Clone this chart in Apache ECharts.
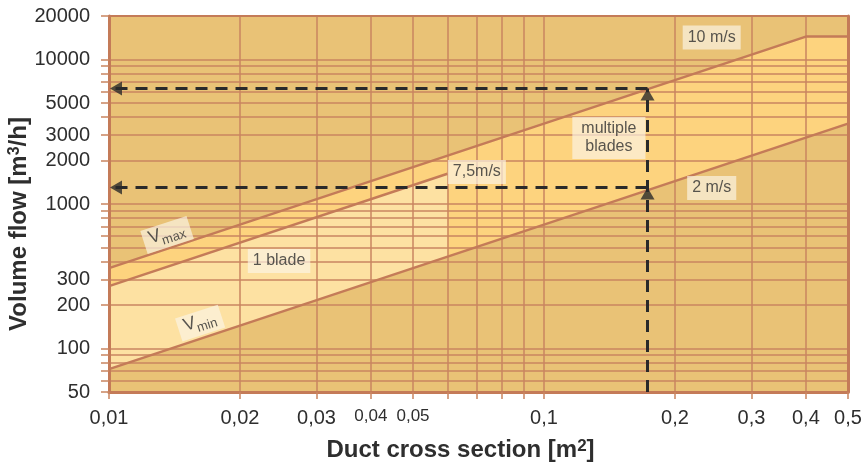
<!DOCTYPE html>
<html>
<head>
<meta charset="utf-8">
<style>
  html, body { margin: 0; padding: 0; background: #fff; }
  #chart { width: 863px; height: 463px; }
</style>
<script src="https://cdn.jsdelivr.net/npm/echarts@6/dist/echarts.min.js"></script>
</head>
<body>
<div id="chart"></div>
<script>
// grid / tick values (log-log)
var xGrid = [0.01, 0.02, 0.03, 0.04, 0.05, 0.06, 0.07, 0.08, 0.09, 0.1, 0.2, 0.3, 0.4, 0.5];
var xLabels = [0.01, 0.02, 0.03, 0.04, 0.05, 0.1, 0.2, 0.3, 0.4, 0.5];
var yGrid = [50, 60, 70, 80, 90, 100, 200, 300, 400, 500, 600, 700, 800, 900,
             1000, 2000, 3000, 4000, 5000, 6000, 7000, 8000, 9000, 10000, 20000];
var yLabels = [50, 100, 200, 300, 1000, 2000, 3000, 5000, 10000, 20000];

// velocity lines [cross section m2, volume flow m3/h]
var vMax = [[0.01, 360], [0.4, 14400], [0.5, 14400]];   // 10 m/s
var v75 = [[0.01, 270], [0.06, 1620]];                   // 7,5 m/s
var vMin = [[0.01, 72], [0.5, 3600]];                    // 2 m/s

// shaded zones
var zoneMulti = [[0.01, 360], [0.4, 14400], [0.5, 14400], [0.5, 3600], [0.01, 72]];
var zoneOne = [[0.01, 270], [0.06, 1620], [0.06, 432], [0.01, 72]];

// example reading (dashed)
var dashUpper = [[0.173, 6300], [0.01, 6300]];
var dashLower = [[0.173, 1300], [0.01, 1300]];
var dashVert = [[0.173, 50], [0.173, 6300]];
var arrowsLeft = [[0.01, 6300], [0.01, 1300]];
var arrowsUp = [[0.173, 6300], [0.173, 1300]];

// text notes
var notes = [
  {name: '10 m/s', value: [0.243, 14200]},
  {name: 'multiple\nblades', value: [0.141, 2860], label: {padding: [3, 9]}},
  {name: '7,5m/s', value: [0.0701, 1666]},
  {name: '2 m/s', value: [0.243, 1290]},
  {name: '1 blade', value: [0.0246, 403]}
];
var rotNotes = [
  {name: '{v|V}{s|max}', value: [0.0136, 610]},
  {name: '{v|V}{s|min}', value: [0.0162, 150]}
];

var FONT = '"Liberation Sans", Arial, sans-serif';
var GRID_COL = '#c98560';
var LINE_COL = '#c47b58';
var TXT = '#2e2e2e';

function fmtX(v) {
  var s = String(+v.toPrecision(3)).replace('.', ',');
  if (v > 0.035 && v < 0.055) return '{s|' + s + '}';
  return s;
}

function zone(pts, color) {
  return {
    type: 'custom', z: 1, silent: true, data: pts,
    renderItem: function(params, api) {
      if (params.dataIndex > 0) return;
      var p = pts.map(function(d) { return api.coord(d); });
      return {type: 'polygon', shape: {points: p}, style: {fill: color}};
    }
  };
}

function line(data, color, width, dash, z) {
  return {
    type: 'line', data: data, symbol: 'none', z: z, silent: true,
    lineStyle: {color: color, width: width, type: dash || 'solid'}
  };
}

function arrows(data, rot, off) {
  return {
    type: 'scatter', data: data, z: 7, silent: true,
    symbol: 'triangle', symbolSize: [14, 12], symbolRotate: rot, symbolOffset: off,
    itemStyle: {color: '#2a2a2a'}
  };
}

var labelBox = {
  show: true, position: 'inside', color: TXT, fontFamily: FONT, fontSize: 16,
  backgroundColor: 'rgba(251,243,228,0.85)', padding: [3, 5], lineHeight: 18, align: 'center'
};

var myChart = echarts.init(document.getElementById('chart'), null, {renderer: 'canvas'});

var option = {
  animation: false,
  grid: {
    left: 109, right: 15, top: 16, bottom: 71, outerBoundsMode: 'none', containLabel: false,
    show: true, backgroundColor: '#e9c276', borderWidth: 0
  },
  xAxis: [{
    type: 'log', logBase: 10, min: 0.01, max: 0.5, z: 3,
    name: '{n|Duct cross section [m}{s|2}{n|]}', nameLocation: 'middle', nameGap: 46,
    nameTextStyle: {
      padding: [0, 36, 0, 0],
      rich: {
        n: {fontFamily: FONT, fontSize: 24, fontWeight: 'bold', color: TXT, lineHeight: 30, verticalAlign: 'top'},
        s: {fontFamily: FONT, fontSize: 17, fontWeight: 'bold', color: TXT, lineHeight: 17, verticalAlign: 'top'}
      }
    },
    axisLine: {show: true, lineStyle: {color: LINE_COL, width: 3}},
    axisTick: {show: true, length: 7, customValues: xGrid, lineStyle: {color: GRID_COL, width: 1.5}},
    splitLine: {show: true, lineStyle: {color: GRID_COL, width: 1.5}},
    minorTick: {show: false}, minorSplitLine: {show: false},
    axisLabel: {
      customValues: xLabels, margin: 16, color: TXT, fontFamily: FONT, fontSize: 20,
      formatter: fmtX,
      rich: {s: {fontFamily: FONT, fontSize: 17, color: TXT}}
    }
  }, {
    type: 'log', logBase: 10, min: 0.01, max: 0.5, position: 'top', z: 3,
    axisLine: {show: true, lineStyle: {color: LINE_COL, width: 2}},
    axisTick: {show: false}, axisLabel: {show: false}, splitLine: {show: false}
  }],
  yAxis: [{
    type: 'log', logBase: 10, min: 50, max: 20000, z: 3,
    name: '{n|Volume flow [m}{s|3}{n|/h]}', nameLocation: 'middle', nameGap: 72,
    nameMoveOverlap: false,
    nameTextStyle: {
      padding: [0, 40, 0, 0],
      rich: {
        n: {fontFamily: FONT, fontSize: 24, fontWeight: 'bold', color: TXT, lineHeight: 30, verticalAlign: 'top'},
        s: {fontFamily: FONT, fontSize: 16, fontWeight: 'bold', color: TXT, lineHeight: 16, verticalAlign: 'top'}
      }
    },
    axisLine: {show: true, lineStyle: {color: LINE_COL, width: 3}},
    axisTick: {show: true, length: 8, customValues: yGrid, lineStyle: {color: GRID_COL, width: 1.5}},
    splitLine: {show: true, lineStyle: {color: GRID_COL, width: 1.5}},
    minorTick: {show: false}, minorSplitLine: {show: false},
    axisLabel: {
      customValues: yLabels, margin: 19, color: TXT, fontFamily: FONT, fontSize: 20,
      formatter: function(v) { return String(Math.round(v)); }
    }
  }, {
    type: 'log', logBase: 10, min: 50, max: 20000, position: 'right', z: 3,
    axisLine: {show: true, lineStyle: {color: LINE_COL, width: 3}},
    axisTick: {show: false}, axisLabel: {show: false}, splitLine: {show: false}
  }],
  series: [
    zone(zoneMulti, '#fdd37e'),
    zone(zoneOne, '#fde1a2'),
    line(vMax, LINE_COL, 2.5, null, 5),
    line(v75, LINE_COL, 2.5, null, 5),
    line(vMin, LINE_COL, 2.5, null, 5),
    line(dashUpper, '#2a2a2a', 3, [12, 8], 6),
    line(dashLower, '#2a2a2a', 3, [12, 8], 6),
    line(dashVert, '#2a2a2a', 3, [12, 8], 6),
    arrows(arrowsLeft, 90, [7, 0]),
    arrows(arrowsUp, 0, [0, 6]),
    {
      type: 'scatter', data: notes, z: 8, silent: true, symbolSize: 0.1,
      itemStyle: {color: 'transparent'},
      label: Object.assign({}, labelBox, {formatter: '{b}'})
    },
    {
      type: 'scatter', data: rotNotes, z: 8, silent: true, symbolSize: 0.1,
      itemStyle: {color: 'transparent'},
      label: {
        show: true, position: 'inside', rotate: 18, formatter: '{b}',
        backgroundColor: 'rgba(251,243,228,0.85)', padding: [1, 6, 1, 6],
        rich: {
          v: {fontFamily: FONT, fontSize: 18, color: TXT, lineHeight: 22, verticalAlign: 'top'},
          s: {fontFamily: FONT, fontSize: 13, color: TXT, lineHeight: 14, padding: [9, 0, 0, 0], verticalAlign: 'top'}
        }
      }
    }
  ]
};

myChart.setOption(option);
</script>
</body>
</html>
